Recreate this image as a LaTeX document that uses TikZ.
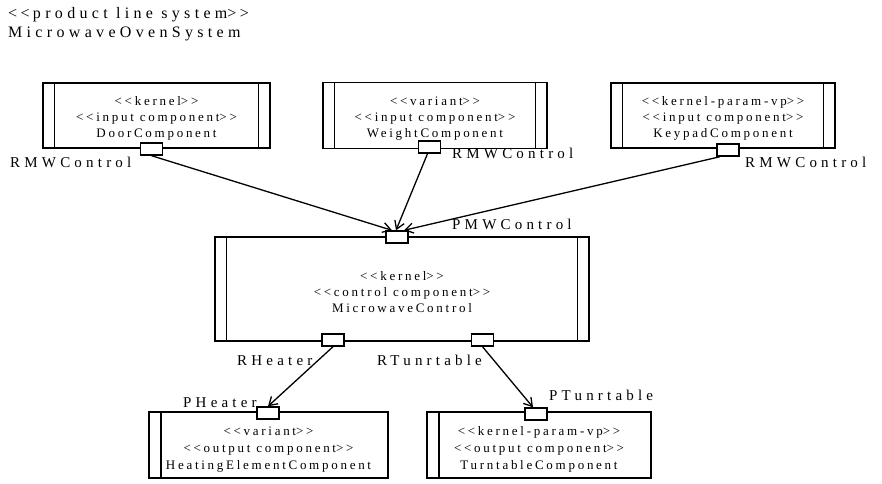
\documentclass[tikz,border=0pt]{standalone}
\usepackage{fontspec}
\setmainfont{Liberation Serif}
\newfontfamily\ttlf[LetterSpace=27]{Liberation Serif}
\newfontfamily\lblf[LetterSpace=28]{Liberation Serif}
\newfontfamily\cmpf[LetterSpace=21]{Liberation Serif}
\newcommand\LL{\mbox{<}\kern.21em\mbox{<}\kern.21em}
\newcommand\GG{\mbox{>}\kern.21em\mbox{>}}
\usetikzlibrary{arrows.meta,calc}
\begin{document}
\begin{tikzpicture}[x=1pt,y=-1pt,
  comp/.style={draw,line width=1.4pt,inner sep=0pt},
  ctext/.style={align=center,inner sep=0pt,font=\cmpf\fontsize{13}{16}\selectfont},
  ctextb/.style={align=center,inner sep=0pt,font=\cmpf\fontsize{13}{17}\selectfont},
  bothbars/.style={comp,path picture={
    \draw[line width=1.4pt]
      ([xshift=11.5pt]path picture bounding box.north west) -- ([xshift=11.5pt]path picture bounding box.south west)
      ([xshift=-11.5pt]path picture bounding box.north east) -- ([xshift=-11.5pt]path picture bounding box.south east);}},
  leftbar/.style={comp,path picture={
    \draw[line width=1.4pt]
      ([xshift=12pt]path picture bounding box.north west) -- ([xshift=12pt]path picture bounding box.south west);}},
  port/.style={draw,line width=1.4pt,fill=white,minimum width=22pt,minimum height=12pt,inner sep=0pt},
  conn/.style={line width=1.3pt,-{Straight Barb[length=8pt,width=10pt,line width=1.3pt]}},
  lbl/.style={font=\lblf\fontsize{15}{16}\selectfont,inner sep=0pt,anchor=base west},
  ttl/.style={font=\ttlf\fontsize{16}{16}\selectfont,inner sep=0pt,anchor=base west}]
\useasboundingbox (0,0) rectangle (882,483);

% title
\node[ttl] (t1) at (8,18) {\LL product line system\GG};
\node[ttl] (t2) at (8,37) {MicrowaveOvenSystem};

% top components
\node[bothbars,minimum width=227pt,minimum height=65pt] (door) at (156.5,115.5) {};
\node[ctext] (doorT) at (156.5,118.5) {\LL kernel\GG\\\LL input component\GG\\DoorComponent};
\node[bothbars,minimum width=224pt,minimum height=66pt] (weight) at (435,115.5) {};
\node[ctext] (weightT) at (435,118.5) {\LL variant\GG\\\LL input component\GG\\WeightComponent};
\node[bothbars,minimum width=224pt,minimum height=65pt] (keypad) at (723,115.5) {};
\node[ctext] (keypadT) at (723,118.5) {\LL kernel-param-vp\GG\\\LL input component\GG\\KeypadComponent};

% middle component
\node[bothbars,minimum width=374pt,minimum height=104pt] (mw) at (402,289) {};
\node[ctext] (mwT) at (402,292) {\LL kernel\GG\\\LL control component\GG\\MicrowaveControl};

% bottom components
\node[leftbar,minimum width=239pt,minimum height=66pt] (heat) at (268.5,445) {};
\node[ctextb] (heatT) at (268.5,449.5) {\LL variant\GG\\\LL output component\GG\\HeatingElementComponent};
\node[leftbar,minimum width=224pt,minimum height=66pt] (turn) at (539,445) {};
\node[ctextb] (turnT) at (539,449.5) {\LL kernel-param-vp\GG\\\LL output component\GG\\TurntableComponent};

% ports
\node[port] (doorP) at (151.5,149) {};
\node[port] (weightP) at (429.5,147) {};
\node[port] (keyP) at (728,150) {};
\node[port] (mwP) at (397,237) {};
\node[port] (rhP) at (333,340) {};
\node[port] (rtP) at (482.5,340) {};
\node[port] (phP) at (268,413) {};
\node[port] (ptP) at (536,414) {};

% connectors
\draw[conn] (doorP.south) -- ([xshift=-5pt]mwP.north);
\draw[conn] ([xshift=-2pt]weightP.south) -- ([xshift=-1pt]mwP.north);
\draw[conn] ([xshift=-8pt]keyP.south) -- ([xshift=7pt]mwP.north);
\draw[conn] (rhP.south) -- (phP.north);
\draw[conn] (rtP.south) -- ([xshift=-3pt]ptP.north);

% port labels
\node[lbl] (l1) at (10,167) {RMWControl};
\node[lbl] (l2) at (452,158) {RMWControl};
\node[lbl] (l3) at (745,167) {RMWControl};
\node[lbl] (l4) at (452,229) {PMWControl};
\node[lbl] (l5) at (237,365) {RHeater};
\node[lbl] (l6) at (377,365) {RTunrtable};
\node[lbl] (l7) at (183,407) {PHeater};
\node[lbl] (l8) at (549,400) {PTunrtable};
\end{tikzpicture}
\end{document}
